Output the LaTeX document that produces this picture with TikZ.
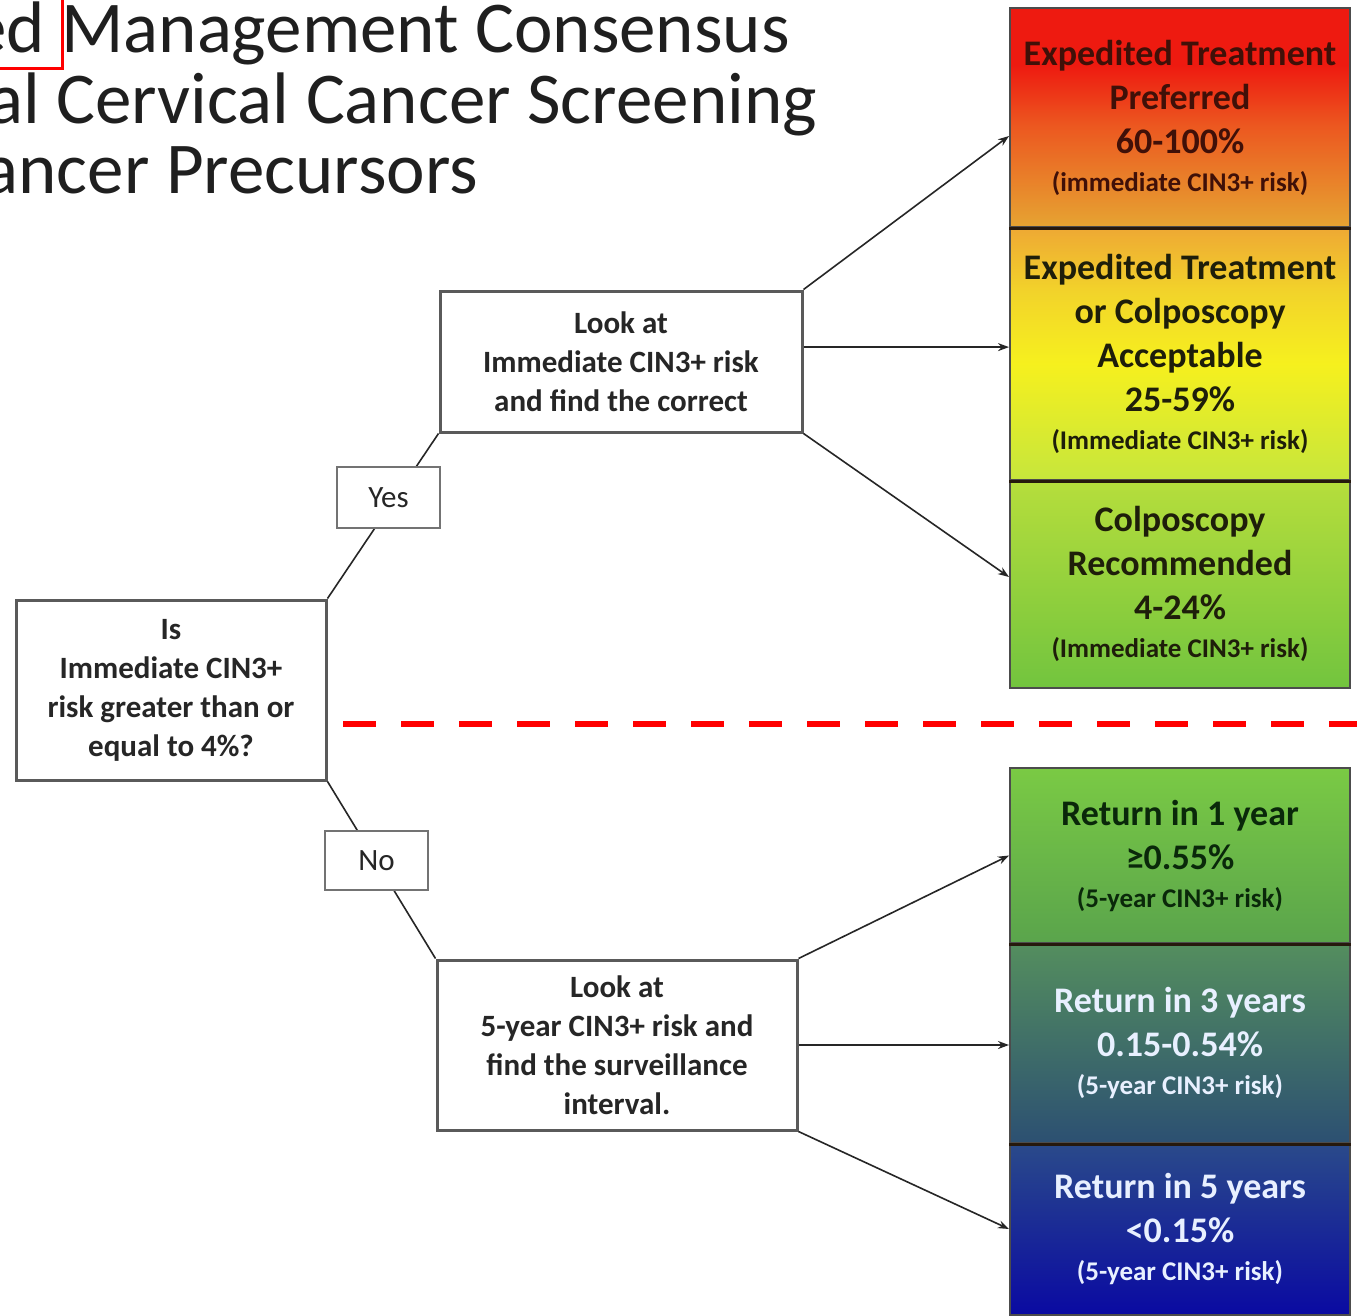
\documentclass[tikz,border=0pt]{standalone}
\usepackage{fontspec}
\setmainfont{Carlito}
\usetikzlibrary{calc,arrows.meta}
\definecolor{txtdark}{HTML}{262626}
\definecolor{boxline}{HTML}{5A5A5A}
\definecolor{rA}{HTML}{EE1A10}
\definecolor{rB}{HTML}{EC5820}
\definecolor{rC}{HTML}{E6A432}
\definecolor{yA}{HTML}{EEA834}
\definecolor{yM}{HTML}{F2D42A}
\definecolor{yB}{HTML}{F6F01E}
\definecolor{yC}{HTML}{C6E63C}
\definecolor{gA}{HTML}{B6DE3C}
\definecolor{gC}{HTML}{72C43E}
\definecolor{hA}{HTML}{7ACA44}
\definecolor{hC}{HTML}{5AA44C}
\definecolor{tA}{HTML}{548E5E}
\definecolor{tC}{HTML}{2C5072}
\definecolor{bA}{HTML}{2A4A8A}
\definecolor{bC}{HTML}{0A0AA2}
\definecolor{cRed}{HTML}{401008}
\definecolor{cOlive}{HTML}{1E1E0A}
\definecolor{cGreen}{HTML}{0A280A}
\definecolor{cWhite}{HTML}{E8F0FF}
\pgfdeclareverticalshading{shRed}{100bp}{color(0bp)=(rC); color(25bp)=(rC); color(48bp)=(rB); color(62bp)=(rA); color(75bp)=(rA); color(100bp)=(rA)}
\pgfdeclareverticalshading{shYel}{100bp}{color(0bp)=(yC); color(25bp)=(yC); color(48bp)=(yB); color(62bp)=(yM); color(75bp)=(yA); color(100bp)=(yA)}
\tikzset{
  flowbox/.style={draw=boxline, line width=3, fill=white, align=center, text=txtdark,
    font=\bfseries\fontsize{31}{39}\selectfont, inner sep=0},
  tagbox/.style={draw=black!55, line width=1.5, fill=white, align=center, text=txtdark,
    font=\fontsize{31}{34}\selectfont, inner sep=0},
  cbox/.style={draw=black!70, line width=2, align=center, inner sep=0,
    minimum width=340, font=\bfseries\fontsize{36}{44}\selectfont},
  sepline/.style={black!80!brown, line width=3},
  link/.style={black!85, line width=1.6},
  arr/.style={black!85, line width=1.6, -{Stealth[length=11,width=8]}},
  titletxt/.style={font=\fontsize{73}{73}\selectfont, text=black!88, inner sep=0},
}
\newcommand{\smallline}[1]{{\fontsize{27}{30}\selectfont #1}}
\begin{document}
\begin{tikzpicture}[x=1pt,y=-1pt]
\useasboundingbox (0,0) rectangle (1357,1315);
\clip (0,0) rectangle (1357,1315);
\fill[white] (0,0) rectangle (1357,1315);

% title
\node[titletxt, anchor=base east] (t1) at (790,52) {ed Management Consensus};
\node[titletxt, anchor=base east] (t2) at (817,123) {al Cervical Cancer Screening};
\node[titletxt, anchor=base east] (t3) at (478,193) {ancer Precursors};
\draw[red, line width=3] (62,-2) -- (62,68) -- (-2,68);

% colored outcome boxes
\node[cbox, minimum height=219, shading=shRed, text=cRed] (c1) at (1180,117.5)
  {Expedited Treatment\\Preferred\\60-100\%\\[-6pt]\smallline{(immediate CIN3+ risk)}};
\node[cbox, minimum height=253, shading=shYel, text=cOlive] (c2) at (1180,353.5)
  {Expedited Treatment\\or Colposcopy\\Acceptable\\25-59\%\\[-6pt]\smallline{(Immediate CIN3+ risk)}};
\node[cbox, minimum height=208, top color=gA, bottom color=gC, text=cOlive] (c3) at (1180,584)
  {Colposcopy\\Recommended\\4-24\%\\[-6pt]\smallline{(Immediate CIN3+ risk)}};
\node[cbox, minimum height=175, top color=hA, bottom color=hC, text=cGreen] (c4) at (1180,855.5)
  {Return in 1 year\\≥0.55\%\\[-6pt]\smallline{(5-year CIN3+ risk)}};
\node[cbox, minimum height=200, top color=tA, bottom color=tC, text=cWhite] (c5) at (1180,1043)
  {Return in 3 years\\0.15-0.54\%\\[-6pt]\smallline{(5-year CIN3+ risk)}};
\node[cbox, minimum height=172, top color=bA, bottom color=bC, text=cWhite] (c6) at (1180,1229)
  {Return in 5 years\\<0.15\%\\[-6pt]\smallline{(5-year CIN3+ risk)}};
\draw[sepline] (c1.south west) -- (c1.south east);
\draw[sepline] (c2.south west) -- (c2.south east);
\draw[sepline] (c4.south west) -- (c4.south east);
\draw[sepline] (c5.south west) -- (c5.south east);

% red separator
\draw[red, line width=6, dash pattern=on 33 off 25] (343,724) -- (1370,724);

% flow boxes
\node[flowbox, minimum width=310, minimum height=180] (q) at (171,690)
  {Is\\Immediate CIN3+\\risk greater than or\\equal to 4\%?};
\node[flowbox, minimum width=362, minimum height=141] (l1) at (621,361.5)
  {Look at\\Immediate CIN3+ risk\\and find the correct};
\node[flowbox, minimum width=360, minimum height=170] (l2) at (617,1045)
  {Look at\\5-year CIN3+ risk and\\find the surveillance\\interval.};

% yes / no branches
\draw[link] (q.north east) -- (l1.south west);
\draw[link] (q.south east) -- (l2.north west);
\node[tagbox, minimum width=103, minimum height=61] (yes) at (388.5,497.5) {Yes};
\node[tagbox, minimum width=103, minimum height=59] (no) at (376.5,860.5) {No};

% arrows to outcomes
\coordinate (a1) at ($(c1.north west)+(0,129)$);
\coordinate (s2) at ($(l1.north east)!0.4!(l1.south east)$);
\coordinate (a3) at ($(c3.north west)+(0,98)$);
\draw[arr] (l1.north east) -- (a1);
\draw[arr] (s2) -- (s2 -| c2.west);
\draw[arr] (l1.south east) -- (a3);
\draw[arr] (l2.north east) -- (c4.west);
\draw[arr] (l2.east) -- (l2.east -| c5.west);
\draw[arr] (l2.south east) -- (c6.west);
\end{tikzpicture}
\end{document}
